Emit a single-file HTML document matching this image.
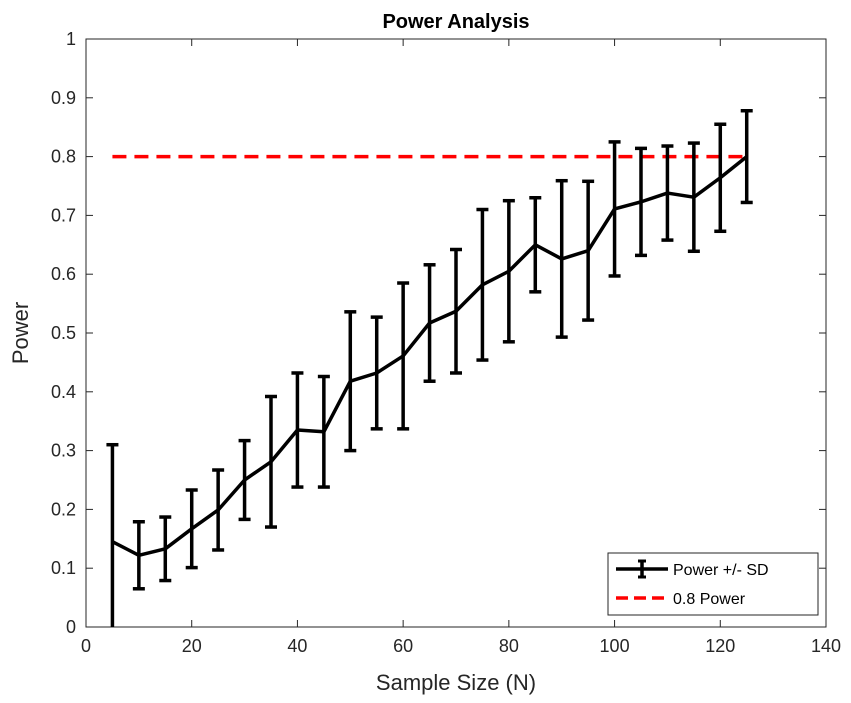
<!DOCTYPE html>
<html><head><meta charset="utf-8"><style>
body{margin:0;background:#fff}
svg{display:block;font-family:"Liberation Sans",Arial,sans-serif}
</style></head><body>
<svg id="c" width="851" height="703"></svg>
<script>
const sampleSizes=[5,10,15,20,25,30,35,40,45,50,55,60,65,70,75,80,85,90,95,100,105,110,115,120,125];
const powerMean=[0.145,0.122,0.133,0.167,0.199,0.25,0.281,0.335,0.332,0.418,0.432,0.461,0.517,0.537,0.582,0.605,0.65,0.626,0.64,0.711,0.723,0.738,0.731,0.764,0.8];
const powerSD=[0.165,0.057,0.054,0.066,0.068,0.067,0.111,0.097,0.094,0.118,0.095,0.124,0.099,0.105,0.128,0.12,0.08,0.133,0.118,0.114,0.091,0.08,0.092,0.091,0.078];
const xTicks=[0,20,40,60,80,100,120,140];
const yTicks=[0,0.1,0.2,0.3,0.4,0.5,0.6,0.7,0.8,0.9,1];
const threshold=0.8;
const L=86,R=826,T=39,B=627;
const sx=v=>L+(v-0)/140*(R-L);
const sy=v=>B-(v-0)/1*(B-T);
const svg=document.getElementById('c');
const NS='http://www.w3.org/2000/svg';
function mk(tag,attrs,parent){const e=document.createElementNS(NS,tag);for(const k in attrs)e.setAttribute(k,attrs[k]);(parent||svg).appendChild(e);return e;}
let e;
e=mk('rect',{x:L,y:T,width:R-L,height:B-T,fill:'#fff',stroke:'#262626','stroke-width':1});


xTicks.forEach(t=>{
 const x=sx(t);
 mk('line',{x1:x,x2:x,y1:B,y2:B-7,stroke:'#262626'});
 mk('line',{x1:x,x2:x,y1:T,y2:T+7,stroke:'#262626'});
 const tx=mk('text',{x:x,y:B+25,'text-anchor':'middle','font-size':18,fill:'#262626'});tx.textContent=t;
 
 
});
yTicks.forEach(t=>{
 const y=sy(t);
 mk('line',{x1:L,x2:L+7,y1:y,y2:y,stroke:'#262626'});
 mk('line',{x1:R,x2:R-7,y1:y,y2:y,stroke:'#262626'});
 const tx=mk('text',{x:L-10,y:y+6,'text-anchor':'end','font-size':18,fill:'#262626'});tx.textContent=String(t);
 
 
});
e=mk('line',{x1:sx(sampleSizes[0]),x2:sx(sampleSizes[sampleSizes.length-1]),y1:sy(threshold),y2:sy(threshold),stroke:'#ff0000','stroke-width':3.5,'stroke-dasharray':'14 8'});


sampleSizes.forEach((n,i)=>{
 const x=sx(n),lo=Math.max(0,powerMean[i]-powerSD[i]),hi=powerMean[i]+powerSD[i];
 const g=mk('g',{stroke:'#000','stroke-width':3.5});
 
 
 mk('line',{x1:x,x2:x,y1:sy(lo),y2:sy(hi)},g);
 mk('line',{x1:x-6,x2:x+6,y1:sy(hi),y2:sy(hi)},g);
 if(powerMean[i]-powerSD[i]>0)mk('line',{x1:x-6,x2:x+6,y1:sy(lo),y2:sy(lo)},g);
});
e=mk('polyline',{points:sampleSizes.map((n,i)=>sx(n)+','+sy(powerMean[i])).join(' '),fill:'none',stroke:'#000','stroke-width':3.5,'stroke-linejoin':'round'});


e=mk('text',{x:(L+R)/2,y:28,'text-anchor':'middle','font-size':20,'font-weight':'bold',fill:'#000'});e.textContent='Power Analysis';


e=mk('text',{x:(L+R)/2,y:690,'text-anchor':'middle','font-size':22,fill:'#262626'});e.textContent='Sample Size (N)';


e=mk('text',{x:28,y:(T+B)/2,'text-anchor':'middle','font-size':22,fill:'#262626',transform:`rotate(-90 28 ${(T+B)/2})`});e.textContent='Power';


const lg=mk('g',{});


mk('rect',{x:608,y:553,width:210,height:62,fill:'#fff',stroke:'#262626'},lg);
mk('line',{x1:616,x2:668,y1:569,y2:569,stroke:'#000','stroke-width':3.5},lg);
mk('line',{x1:642,x2:642,y1:561,y2:577,stroke:'#000','stroke-width':3.5},lg);
mk('line',{x1:638,x2:646,y1:561,y2:561,stroke:'#000','stroke-width':3},lg);
mk('line',{x1:638,x2:646,y1:577,y2:577,stroke:'#000','stroke-width':3},lg);
e=mk('text',{x:673,y:575,'font-size':16,fill:'#000'},lg);e.textContent='Power +/- SD';


mk('line',{x1:616,x2:668,y1:598,y2:598,stroke:'#ff0000','stroke-width':3.5,'stroke-dasharray':'12 6'},lg);
e=mk('text',{x:673,y:604,'font-size':16,fill:'#000'},lg);e.textContent='0.8 Power';


</script>
</body></html>
